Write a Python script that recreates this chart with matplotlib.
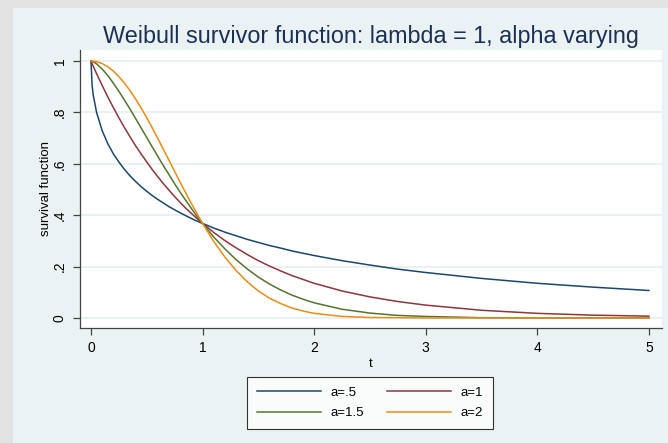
import matplotlib.pyplot as plt
from matplotlib.patches import Rectangle

# values
t = [0, 0.01, 0.02, 0.05, 0.1,
     0.15, 0.2, 0.25, 0.3, 0.35, 0.4, 0.45, 0.5, 0.55, 0.6, 0.65, 0.7, 0.75,
     0.8, 0.85, 0.9, 0.95, 1.0,
     1.1, 1.2, 1.3, 1.4, 1.5, 1.6, 1.7, 1.8, 1.9, 2.0,
     2.25, 2.5, 2.75, 3.0, 3.5, 4.0, 4.5, 5.0]
s_a05 = [1.0, 0.905, 0.868, 0.800, 0.729,
         0.679, 0.639, 0.607, 0.578, 0.553, 0.531, 0.511, 0.493, 0.476, 0.461,
         0.447, 0.433, 0.421, 0.409, 0.398, 0.387, 0.377, 0.368,
         0.350, 0.334, 0.320, 0.306, 0.294, 0.282, 0.272, 0.261, 0.252, 0.243,
         0.223, 0.206, 0.190, 0.177, 0.154, 0.135, 0.120, 0.107]
s_a1 = [1.0, 0.990, 0.980, 0.951, 0.905,
        0.861, 0.819, 0.779, 0.741, 0.705, 0.670, 0.638, 0.607, 0.577, 0.549,
        0.522, 0.497, 0.472, 0.449, 0.427, 0.407, 0.387, 0.368,
        0.333, 0.301, 0.273, 0.247, 0.223, 0.202, 0.183, 0.165, 0.150, 0.135,
        0.105, 0.082, 0.064, 0.050, 0.030, 0.018, 0.011, 0.007]
s_a15 = [1.0, 0.999, 0.997, 0.989, 0.969,
         0.944, 0.914, 0.882, 0.848, 0.813, 0.776, 0.739, 0.702, 0.665, 0.628,
         0.592, 0.557, 0.522, 0.489, 0.457, 0.426, 0.396, 0.368,
         0.315, 0.269, 0.227, 0.191, 0.159, 0.132, 0.109, 0.089, 0.073, 0.059,
         0.034, 0.019, 0.010, 0.006, 0.001, 0.0, 0.0, 0.0]
s_a2 = [1.0, 1.0, 1.0, 0.998, 0.990,
        0.978, 0.961, 0.939, 0.914, 0.885, 0.852, 0.817, 0.779, 0.739, 0.698,
        0.655, 0.613, 0.570, 0.527, 0.486, 0.445, 0.406, 0.368,
        0.298, 0.237, 0.185, 0.141, 0.105, 0.077, 0.056, 0.039, 0.027, 0.018,
        0.006, 0.002, 0.001, 0.0, 0.0, 0.0, 0.0, 0.0]

series = [("a=.5", s_a05, "#1a476f"),
          ("a=1", s_a1, "#90353b"),
          ("a=1.5", s_a15, "#55752f"),
          ("a=2", s_a2, "#ec8c12")]

x_ticks = [0, 1, 2, 3, 4, 5]
y_ticks = [0, 0.2, 0.4, 0.6, 0.8, 1.0]
y_labels = ["0", ".2", ".4", ".6", ".8", "1"]

plt.rcParams['font.family'] = ['Liberation Sans', 'DejaVu Sans']

W, H = 668, 443
fig = plt.figure(figsize=(W / 100, H / 100), dpi=100)
fig.patch.set_facecolor("#e3e3e3")
fig.add_artist(Rectangle((13 / W, 0), 1, 1 - 8 / H, transform=fig.transFigure,
                         facecolor="#eaf2f3", edgecolor="none", zorder=-10))

left, right, top, bottom = 80, 662, 50, 328
ax = fig.add_axes([left / W, 1 - bottom / H, (right - left) / W, (bottom - top) / H])
ax.set_facecolor("white")

lines = {}
for label, vals, color in series:
    lines[label], = ax.plot(t, vals, color=color, lw=1.1, label=label,
                            solid_joinstyle="round")

ax.set_xlim(-0.0986, 5.117)
ax.set_ylim(-0.039, 1.043)
ax.set_xticks(x_ticks)
ax.set_xticklabels([str(v) for v in x_ticks])
ax.set_yticks(y_ticks)
ax.set_yticklabels(y_labels, rotation=90, va="center")
ax.yaxis.grid(True, color="#e6eff1", lw=1.2)
ax.set_axisbelow(True)

for side in ["top", "right"]:
    ax.spines[side].set_visible(False)
for side in ["left", "bottom"]:
    ax.spines[side].set_color("#444444")
    ax.spines[side].set_linewidth(0.9)
ax.tick_params(direction="out", length=5, width=0.9, color="#444444",
               labelsize=10, pad=4.5)

ax.set_xlabel("t", fontsize=9.5, labelpad=2)
ax.set_ylabel("survival function", fontsize=9.5, labelpad=0.5)
ax.set_title("Weibull survivor function: lambda = 1, alpha varying",
             fontsize=16.8, color="#1c2f55", pad=5)

handles = [lines["a=.5"], lines["a=1.5"], lines["a=1"], lines["a=2"]]
leg = ax.legend(handles=handles, labels=[h.get_label() for h in handles],
                ncol=2, loc="center", bbox_to_anchor=(0.554, 0.0903),
                bbox_transform=fig.transFigure, fontsize=9.5, frameon=True,
                fancybox=False, edgecolor="black", handlelength=4.85,
                columnspacing=1.75, handletextpad=0.7, borderpad=0.75,
                labelspacing=0.6)
leg.get_frame().set_linewidth(0.8)

plt.savefig("out.png", dpi=100, facecolor=fig.get_facecolor())
